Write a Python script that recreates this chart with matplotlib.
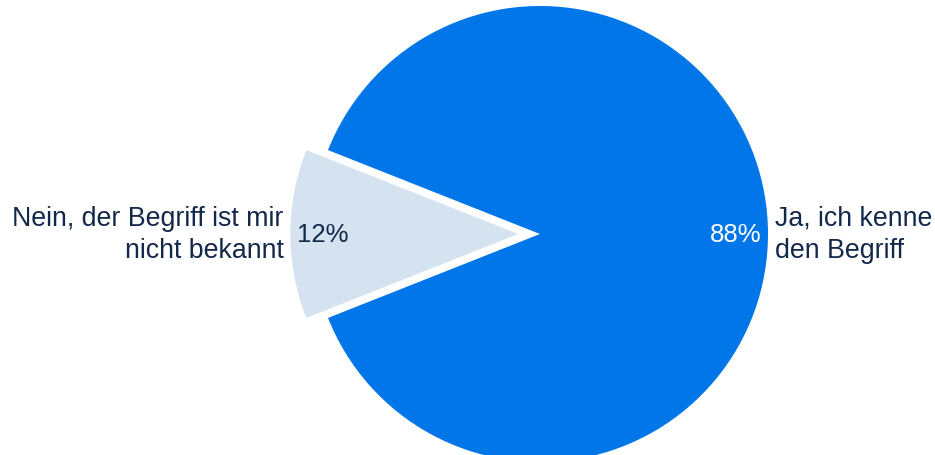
import matplotlib
matplotlib.use("Agg")
import matplotlib.pyplot as plt

labels = ["Ja, ich kenne\nden Begriff", "Nein, der Begriff ist mir\nnicht bekannt"]
values = [88, 12]
colors = ["#0076E9", "#D5E2F0"]
pct_colors = ["white", "#13294B"]

plt.rcParams['font.family'] = ['Liberation Sans', 'DejaVu Sans']

W, H = 935, 456
fig = plt.figure(figsize=(W / 100, H / 100), dpi=100)
ax = fig.add_axes([0, 0, 1, 1])

R = 228.0
cx, cy = 540.0, 456 - 235.0

wedges, texts, autotexts = ax.pie(
    values, labels=labels, colors=colors, explode=[0, 0.095],
    startangle=-0.88 * 180, counterclock=True, radius=1.0,
    autopct=lambda p: f"{p:.0f}%", pctdistance=0.86, labeldistance=1.03,
    textprops=dict(fontsize=19.3, color="#13294B"),
    wedgeprops=dict(linewidth=0),
)
for t in texts:
    t.set_linespacing(1.32)
for t, c in zip(autotexts, pct_colors):
    t.set_color(c)
    t.set_fontsize(18.5)

ax.set_xlim(-cx / R, (W - cx) / R)
ax.set_ylim(-cy / R, (H - cy) / R)
ax.set_aspect('equal', adjustable='box')
ax.axis('off')

fig.savefig("out.png", dpi=100)
